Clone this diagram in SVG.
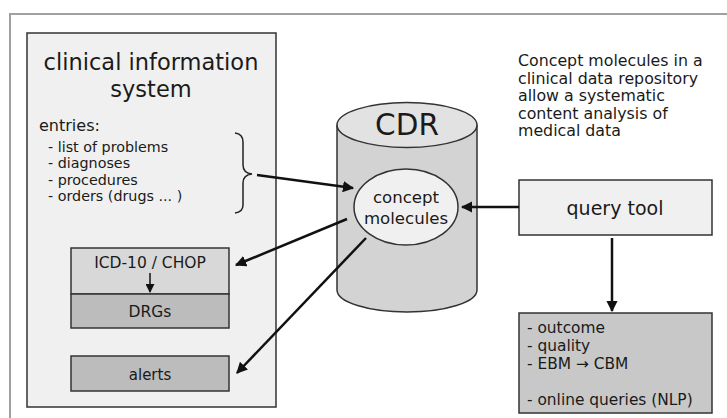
<svg xmlns="http://www.w3.org/2000/svg" width="727" height="418" viewBox="0 0 727 418">
<defs>
<style>
text{font-family:"DejaVu Sans","Liberation Sans",sans-serif;fill:#1a1a1a}
.box{stroke:#333;stroke-width:1.5}
.conn{stroke:#111;stroke-width:2.5;fill:none;marker-end:url(#ah)}
</style>
<marker id="ah" viewBox="0 0 10 10" refX="9" refY="5" markerWidth="4.5" markerHeight="4.5" orient="auto" markerUnits="strokeWidth">
<path d="M0,0 L10,5 L0,10 z" fill="#111"/>
</marker>
<marker id="ahs" viewBox="0 0 10 10" refX="9" refY="5" markerWidth="6" markerHeight="6" orient="auto" markerUnits="strokeWidth">
<path d="M0,0 L10,5 L0,10 z" fill="#111"/>
</marker>
</defs>
<rect width="727" height="418" fill="#fff"/>
<path d="M10,418 V14 H727" fill="none" stroke="#a0a0a0" stroke-width="2"/>

<g id="cis">
<rect class="box" x="27" y="33" width="249" height="374" fill="#f0f0f0"/>
<text x="151" y="70" font-size="22.5" text-anchor="middle">clinical information</text>
<text x="151" y="97" font-size="22.5" text-anchor="middle">system</text>
<text x="39" y="131" font-size="16">entries:</text>
<text x="48" y="152" font-size="14.3">- list of problems</text>
<text x="48" y="168" font-size="14.3">- diagnoses</text>
<text x="48" y="184.5" font-size="14.3">- procedures</text>
<text x="48" y="201" font-size="14.3">- orders (drugs ... )</text>
<path d="M235,133 Q243,134 243,142 V165 Q243,173 252,174 Q243,175 243,183 V205 Q243,212 235,213" fill="none" stroke="#222" stroke-width="1.5"/>
</g>

<g id="icd">
<rect class="box" x="71" y="248" width="158" height="46" fill="#d8d8d8"/>
<text x="150" y="268" font-size="15.5" text-anchor="middle">ICD-10 / CHOP</text>
<line x1="150" y1="273" x2="150" y2="292" stroke="#111" stroke-width="1.5" marker-end="url(#ahs)"/>
</g>
<g id="drgs">
<rect class="box" x="71" y="294" width="158" height="34" fill="#bcbcbc"/>
<text x="150" y="317" font-size="15.5" text-anchor="middle">DRGs</text>
</g>
<g id="alerts">
<rect class="box" x="71" y="356" width="158" height="35" fill="#bcbcbc"/>
<text x="150" y="380" font-size="15" text-anchor="middle">alerts</text>
</g>

<g id="cdr">
<path d="M337,125 V290 A70,22 0 0 0 477,290 V125" fill="#d3d3d3" stroke="#333" stroke-width="1.5"/>
<ellipse cx="407" cy="125" rx="70" ry="22.5" fill="#e2e2e2" stroke="#333" stroke-width="1.5"/>
<text x="407" y="135" font-size="29.5" text-anchor="middle">CDR</text>
</g>
<g id="molecules">
<ellipse cx="406" cy="207" rx="52" ry="38" fill="#f0f0f0" stroke="#333" stroke-width="1.5"/>
<text x="406" y="203" font-size="16.6" text-anchor="middle">concept</text>
<text x="406" y="224" font-size="16.6" text-anchor="middle">molecules</text>
</g>

<g id="note">
<text x="518" y="66" font-size="15.8">Concept molecules in a</text>
<text x="518" y="83.5" font-size="15.8">clinical data repository</text>
<text x="518" y="101" font-size="15.8">allow a systematic</text>
<text x="518" y="118.5" font-size="15.8">content analysis of</text>
<text x="518" y="136" font-size="15.8">medical data</text>
</g>

<g id="query">
<rect class="box" x="519" y="180" width="193" height="55" fill="#f0f0f0"/>
<text x="615" y="215" font-size="19" text-anchor="middle">query tool</text>
</g>

<g id="results">
<rect class="box" x="519" y="313" width="193" height="100" fill="#c8c8c8"/>
<text x="527" y="333" font-size="15.4">- outcome</text>
<text x="527" y="351" font-size="15.4">- quality</text>
<text x="527" y="368.5" font-size="15.4">- EBM → CBM</text>
<text x="527" y="405" font-size="15.4">- online queries (NLP)</text>
</g>

<g id="connectors">
<line class="conn" x1="257" y1="175" x2="353" y2="188"/>
<line class="conn" x1="347" y1="219" x2="236" y2="265"/>
<line class="conn" x1="366" y1="238" x2="237" y2="373"/>
<line class="conn" x1="519" y1="207" x2="462" y2="207"/>
<line class="conn" x1="612" y1="238" x2="612" y2="311"/>
</g>
</svg>
